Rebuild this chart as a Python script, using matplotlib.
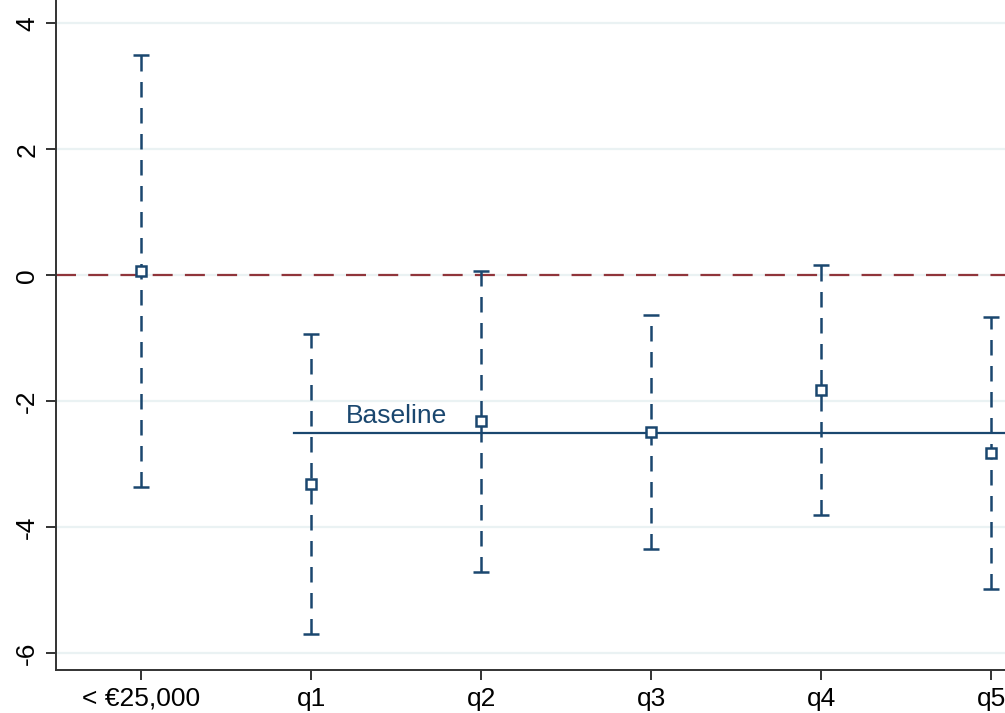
import matplotlib
matplotlib.use("Agg")
import matplotlib.pyplot as plt
import numpy as np

categories = ["< €25,000", "q1", "q2", "q3", "q4", "q5"]
estimates = [0.07, -3.31, -2.32, -2.49, -1.82, -2.82]
ci_low = [-3.36, -5.69, -4.71, -4.34, -3.80, -4.98]
ci_high = [3.50, -0.93, 0.07, -0.63, 0.16, -0.66]
baseline = -2.5
yticks = [-6, -4, -2, 0, 2, 4]

navy = "#1a476f"
maroon = "#90353b"
grid = "#eaf2f3"

plt.rcParams['font.family'] = ['Liberation Sans', 'DejaVu Sans']

fig = plt.figure(figsize=(10.05, 7.13), dpi=100)
ax = fig.add_axes([56/1005, 1 - 670/713, 1 - 56/1005, 670/713])

x = np.arange(len(categories))
est = np.array(estimates)
lo = np.array(ci_low)
hi = np.array(ci_high)

ax.set_xlim(-0.50, 5.08)
ax.set_ylim(-6.265, 4.37)

for yt in yticks:
    ax.axhline(yt, color=grid, lw=1.6, zorder=0)

ax.axhline(0, color=maroon, lw=1.6, dashes=(9, 5.5), zorder=1)

eb = ax.errorbar(x, est, yerr=[est - lo, hi - est], fmt='none', ecolor=navy,
                 elinewidth=1.8, capsize=5.5, capthick=1.8, zorder=2)
for lc in eb[2]:
    lc.set_linestyle((0, (6.2, 4.2)))

ax.plot([0.9, 5.08], [baseline, baseline], color=navy, lw=1.6, zorder=2)
ax.text(1.5, baseline + 0.07, "Baseline", color=navy, fontsize=19,
        ha='center', va='bottom')

ax.plot(x, est, 's', ms=7.5, mfc='white', mec=navy, mew=1.8, zorder=3)

ax.set_xticks(x)
ax.set_xticklabels(categories, fontsize=19)
ax.set_yticks(yticks)
ax.set_yticklabels([str(v) for v in yticks], fontsize=19, rotation=90, va='center')

for side in ['top', 'right']:
    ax.spines[side].set_visible(False)
for side in ['left', 'bottom']:
    ax.spines[side].set_color('#333333')
    ax.spines[side].set_linewidth(1.4)
ax.tick_params(axis='both', direction='out', length=7, width=1.4, color='#333333', pad=5)

fig.savefig("out.png", dpi=100)
